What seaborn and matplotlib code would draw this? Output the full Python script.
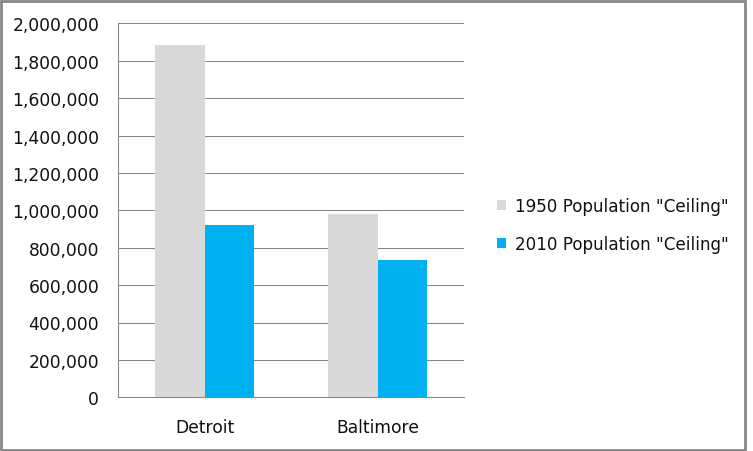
import pandas as pd
import numpy as np
import matplotlib
matplotlib.use('Agg')
import matplotlib.pyplot as plt
import seaborn as sns
from matplotlib.ticker import FuncFormatter, FixedLocator
from matplotlib.patches import Rectangle

#chart data
cities = ['Detroit', 'Baltimore']
series = ['1950 Population "Ceiling"', '2010 Population "Ceiling"']
pop_1950 = [1882000, 980000]
pop_2010 = [921000, 734000]
y_ticks = [0, 200000, 400000, 600000, 800000, 1000000, 1200000, 1400000, 1600000, 1800000, 2000000]

df = pd.DataFrame({
    'city': cities * 2,
    'series': [series[0]] * 2 + [series[1]] * 2,
    'population': pop_1950 + pop_2010,
})

sns.set_style('white')
plt.rcParams['font.family'] = ['DejaVu Sans']

grid_col = '#868686'
fs = 12.3
fig = plt.figure(figsize=(7.53, 4.52), dpi=100)
ax = fig.add_axes([118.3/753, 1-398.3/452, (464-118.3)/753, (398.3-24.3)/452])

sns.barplot(data=df, x='city', y='population', hue='series', order=cities,
            hue_order=series, palette=['#D9D9D9', '#00B0F0'], width=0.572,
            saturation=1, gap=0, linewidth=0, ax=ax, legend=True)

ax.set_xlim(-0.5, 1.5)
ax.set_ylim(0, 2000000)
ax.yaxis.set_major_locator(FixedLocator(y_ticks))
ax.yaxis.set_major_formatter(FuncFormatter(lambda v, p: f'{int(v):,}'))
ax.grid(axis='y', color=grid_col, linewidth=0.75)
ax.set_axisbelow(True)
ax.set_xlabel('')
ax.set_ylabel('')

for s in ['top', 'right']:
    ax.spines[s].set_visible(False)
for s in ['left', 'bottom']:
    ax.spines[s].set_color(grid_col)
    ax.spines[s].set_linewidth(0.75)

ax.tick_params(axis='y', length=5, width=0.75, color=grid_col, labelsize=fs, pad=8.8,
               direction='out', labelcolor='#111111')
ax.tick_params(axis='x', which='major', length=0, labelsize=fs, pad=15, labelcolor='#111111')
ax.set_xticks([-0.5, 0.5, 1.5], minor=True)
ax.tick_params(axis='x', which='minor', length=5, width=0.75, color=grid_col, direction='out')

handles, labels = ax.get_legend_handles_labels()
ax.get_legend().remove()
fig.legend(handles, labels, loc='center left', bbox_to_anchor=(482/753, 1-226/452),
           frameon=False, fontsize=12.1, handlelength=0.55, handleheight=0.55,
           handletextpad=0.5, labelspacing=1.15, labelcolor='#111111')

#outer border
fig.patches.append(Rectangle((1/753, 1/452), 744/753, 449/452, transform=fig.transFigure,
                             fill=False, edgecolor=grid_col, linewidth=2))

plt.savefig('out.png', dpi=100)
